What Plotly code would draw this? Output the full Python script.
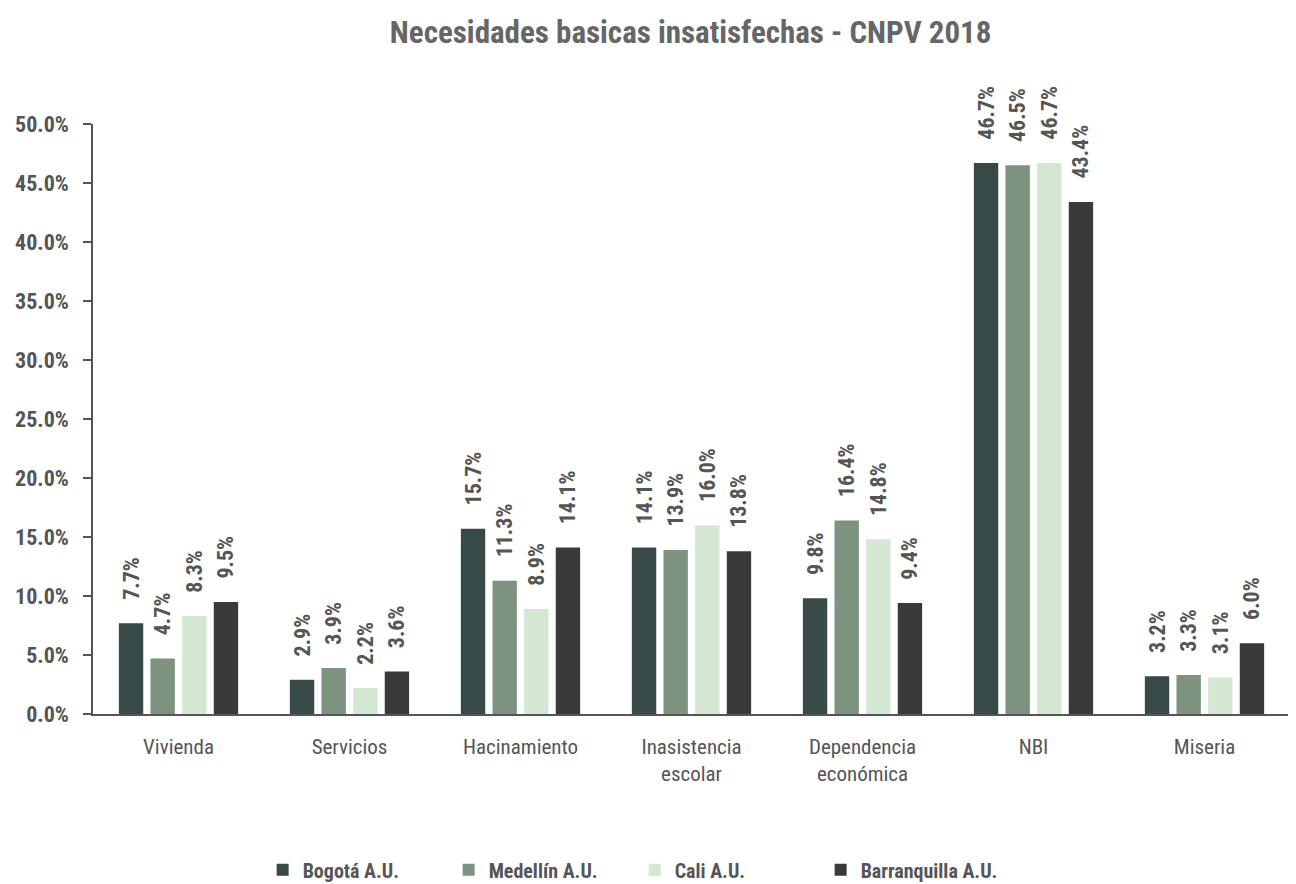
import plotly.graph_objects as go

categories = ["Vivienda", "Servicios", "Hacinamiento", "Inasistencia<br>escolar",
              "Dependencia<br>económica", "NBI", "Miseria"]
series_names = ["Bogotá A.U.", "Medellín A.U.", "Cali A.U.", "Barranquilla A.U."]
bogota = [7.7, 2.9, 15.7, 14.1, 9.8, 46.7, 3.2]
medellin = [4.7, 3.9, 11.3, 13.9, 16.4, 46.5, 3.3]
cali = [8.3, 2.2, 8.9, 16.0, 14.8, 46.7, 3.1]
barranquilla = [9.5, 3.6, 14.1, 13.8, 9.4, 43.4, 6.0]
colors = ["#374a47", "#7d927f", "#d4e7d2", "#3a3a38"]
tick_vals = [0, 5, 10, 15, 20, 25, 30, 35, 40, 45, 50]
tick_text = [f"{v:.1f}%" for v in tick_vals]

FONT = "Roboto Condensed, Roboto, sans-serif"
PAD = "\u00a0\u00a0\u00a0\u00a0"

fig = go.Figure()
for name, vals, col in zip(series_names, [bogota, medellin, cali, barranquilla], colors):
    fig.add_trace(go.Bar(
        name=name, x=categories, y=vals, marker_color=col,
        marker_line_width=0,
        text=[f"{PAD}{v:.1f}%" for v in vals], textposition="outside", textangle=-90,
        constraintext="none",
        textfont=dict(family=FONT, size=22, color="#555555", weight="bold"),
        cliponaxis=False,
    ))

fig.update_layout(
    width=1288, height=876,
    paper_bgcolor="white", plot_bgcolor="white",
    barmode="group", bargap=0.26, bargroupgap=0.23,
    margin=dict(l=85, r=6, t=116, b=170, autoexpand=False),
    title=dict(text="Necesidades basicas insatisfechas - CNPV 2018",
               x=0.530, xanchor="center", y=0.9726, yanchor="middle",
               font=dict(family=FONT, size=31, color="#666666", weight="bold")),
    font=dict(family=FONT, color="#555555"),
    legend=dict(orientation="h", x=0.4525, xanchor="center", y=-0.264, yanchor="middle",
                font=dict(family=FONT, size=20, color="#555555", weight="bold"),
                itemwidth=30, traceorder="normal", entrywidth=141, entrywidthmode="pixels"),
    xaxis=dict(showline=True, linecolor="#555555", linewidth=1.5, ticks="",
               tickfont=dict(family=FONT, size=21, color="#555555"),
               ticklabelstandoff=13, automargin=False,
               showgrid=False),
    yaxis=dict(range=[0, 50], tickmode="array", tickvals=tick_vals, ticktext=tick_text,
               showline=True, linecolor="#555555", linewidth=1.5,
               ticks="outside", ticklen=8, tickcolor="#555555", tickwidth=1.5,
               ticklabelstandoff=10, automargin=False,
               showgrid=False, zeroline=False,
               tickfont=dict(family=FONT, size=22, color="#555555", weight="bold")),
)

fig.write_html("out.html")
